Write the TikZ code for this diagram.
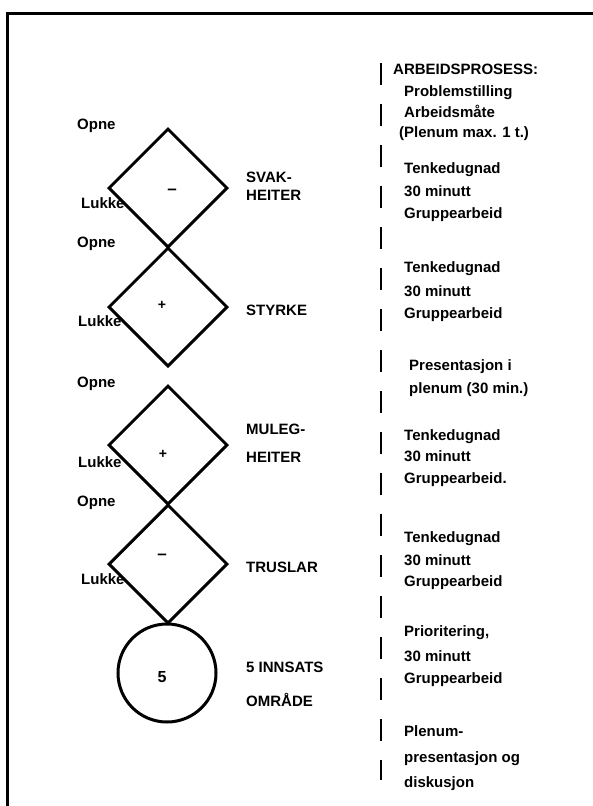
\documentclass[tikz,border=0pt]{standalone}
\usepackage{fontspec}
\setmainfont{Liberation Sans}
\usetikzlibrary{shapes.geometric}

\begin{document}
\begin{tikzpicture}[x=1pt, y=-1pt,
    rute/.style={diamond, draw, line width=3pt, minimum width=119pt, minimum height=119pt, inner sep=0pt},
    sirkel/.style={circle, draw, line width=3pt, minimum size=98pt, inner sep=0pt},
    tekst/.style={font=\fontsize{15}{17}\selectfont\bfseries, inner sep=0pt, text height=1.5ex, text depth=.25ex, anchor=west},
    teikn/.style={font=\fontsize{17}{19}\selectfont\bfseries, inner sep=0pt}]
    \useasboundingbox (0,0) rectangle (593,806);

    % ramme
    \draw[line width=3pt] (593,13) -- (7,13) -- (7,806);

    % dei fire rutene og sirkelen
    \node[rute] (svak) at (168,188) {};
    \node[rute] (styrke) at (168,307) {};
    \node[rute] (muleg) at (168,445) {};
    \node[rute] (trusel) at (168,564) {};
    \node[sirkel] (innsats) at (167,673) {};

    \node[teikn] (svakteikn) at (172,192) {–};
    \node[teikn, font=\fontsize{14}{16}\selectfont\bfseries] (styrketeikn) at (162,305) {+};
    \node[teikn, font=\fontsize{14}{16}\selectfont\bfseries] (mulegteikn) at (163,454) {+};
    \node[teikn] (truselteikn) at (162,557) {–};
    \node[teikn, font=\fontsize{16}{18}\selectfont\bfseries] (innsatstal) at (162,677) {5};

    % opne / lukke
    \node[tekst] (opne1) at (77,126) {Opne};
    \node[tekst] (lukke1) at (81,205) {Lukke};
    \node[tekst] (opne2) at (77,244) {Opne};
    \node[tekst] (lukke2) at (78,323) {Lukke};
    \node[tekst] (opne3) at (77,384) {Opne};
    \node[tekst] (lukke3) at (78,464) {Lukke};
    \node[tekst] (opne4) at (77,503) {Opne};
    \node[tekst] (lukke4) at (81,581) {Lukke};

    % namn på rutene
    \node[tekst] (svaka) at (246,179) {SVAK-};
    \node[tekst] (svakb) at (246,197) {HEITER};
    \node[tekst] (styrkea) at (246,312) {STYRKE};
    \node[tekst] (mulega) at (246,431) {MULEG-};
    \node[tekst] (mulegb) at (246,459) {HEITER};
    \node[tekst] (trusela) at (246,569) {TRUSLAR};
    \node[tekst] (innsatsa) at (246,669) {5 INNSATS};
    \node[tekst] (innsatsb) at (246,703) {OMRÅDE};

    % arbeidsprosessen
    \draw[line width=1.6pt, dash pattern=on 22pt off 19pt] (381,63) -- (381,780);

    \node[tekst] (prosess) at (393,71) {ARBEIDSPROSESS:};
    \node[tekst] (problem) at (404,93) {Problemstilling};
    \node[tekst] (maate) at (404,114) {Arbeidsmåte};
    \node[tekst] (plenum) at (399,134) {(Plenum max. 1 t.)};

    \node[tekst] (tenk1) at (404,170) {Tenkedugnad};
    \node[tekst] (tid1) at (404,193) {30 minutt};
    \node[tekst] (gruppe1) at (404,215) {Gruppearbeid};

    \node[tekst] (tenk2) at (404,269) {Tenkedugnad};
    \node[tekst] (tid2) at (404,293) {30 minutt};
    \node[tekst] (gruppe2) at (404,315) {Gruppearbeid};

    \node[tekst] (pres1) at (409,367) {Presentasjon i};
    \node[tekst] (pres2) at (409,390) {plenum (30 min.)};

    \node[tekst] (tenk3) at (404,437) {Tenkedugnad};
    \node[tekst] (tid3) at (404,458) {30 minutt};
    \node[tekst] (gruppe3) at (404,480) {Gruppearbeid.};

    \node[tekst] (tenk4) at (404,539) {Tenkedugnad};
    \node[tekst] (tid4) at (404,562) {30 minutt};
    \node[tekst] (gruppe4) at (404,583) {Gruppearbeid};

    \node[tekst] (prio) at (404,633) {Prioritering,};
    \node[tekst] (tid5) at (404,658) {30 minutt};
    \node[tekst] (gruppe5) at (404,680) {Gruppearbeid};

    \node[tekst] (slutt1) at (404,733) {Plenum-};
    \node[tekst] (slutt2) at (404,759) {presentasjon og};
    \node[tekst] (slutt3) at (404,784) {diskusjon};
\end{tikzpicture}
\end{document}
